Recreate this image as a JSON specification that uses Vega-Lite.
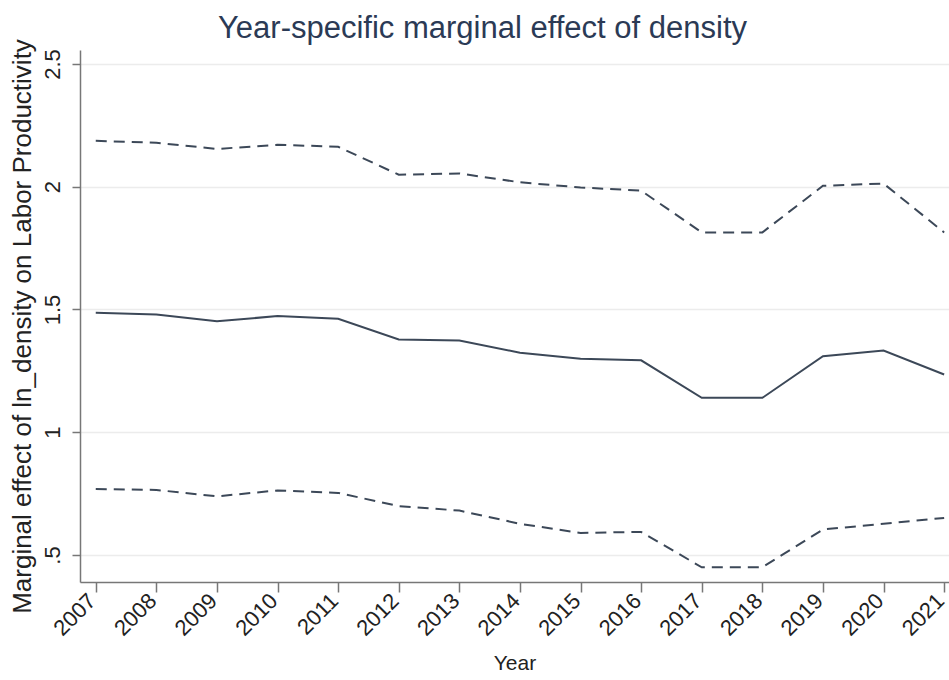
{
  "$schema": "https://vega.github.io/schema/vega-lite/v6.json",
  "autosize": {"type": "none"},
  "width": 869,
  "height": 532,
  "padding": {"left": 80, "top": 50, "right": 0, "bottom": 98},
  "background": "white",
  "config": {
    "view": {"stroke": null},
    "font": "Liberation Sans"
  },
  "title": {
    "text": "Year-specific marginal effect of density",
    "font": "Liberation Sans",
    "fontSize": 31,
    "fontWeight": "normal",
    "color": "#2b3a55",
    "anchor": "middle",
    "dx": -32,
    "offset": -6
  },
  "data": {
    "values": [
      {"year": 2007, "hi": 2.187, "est": 1.487, "lo": 0.769},
      {"year": 2008, "hi": 2.179, "est": 1.480, "lo": 0.765},
      {"year": 2009, "hi": 2.154, "est": 1.452, "lo": 0.739},
      {"year": 2010, "hi": 2.171, "est": 1.473, "lo": 0.763},
      {"year": 2011, "hi": 2.163, "est": 1.462, "lo": 0.753},
      {"year": 2012, "hi": 2.049, "est": 1.378, "lo": 0.699},
      {"year": 2013, "hi": 2.054, "est": 1.374, "lo": 0.681},
      {"year": 2014, "hi": 2.018, "est": 1.324, "lo": 0.627},
      {"year": 2015, "hi": 1.997, "est": 1.299, "lo": 0.590},
      {"year": 2016, "hi": 1.984, "est": 1.293, "lo": 0.594},
      {"year": 2017, "hi": 1.814, "est": 1.140, "lo": 0.450},
      {"year": 2018, "hi": 1.814, "est": 1.140, "lo": 0.450},
      {"year": 2019, "hi": 2.004, "est": 1.310, "lo": 0.604},
      {"year": 2020, "hi": 2.013, "est": 1.333, "lo": 0.627},
      {"year": 2021, "hi": 1.814, "est": 1.235, "lo": 0.651}
    ]
  },
  "encoding": {
    "x": {
      "field": "year",
      "type": "quantitative",
      "scale": {"domain": [2006.74, 2021.08], "nice": false, "zero": false},
      "axis": {
        "title": "Year",
        "titleFont": "Liberation Sans",
        "titleFontSize": 21,
        "titleFontWeight": "normal",
        "titleColor": "#222222",
        "titlePadding": 13,
        "values": [2007, 2008, 2009, 2010, 2011, 2012, 2013, 2014, 2015, 2016, 2017, 2018, 2019, 2020, 2021],
        "format": "d",
        "labelAngle": -45,
        "labelAlign": "right",
        "labelBaseline": "middle",
        "labelFont": "Liberation Sans",
        "labelFontSize": 22,
        "labelColor": "#222222",
        "labelPadding": 5,
        "labelOffset": -4,
        "labelOverlap": false,
        "labelFlush": false,
        "tickSize": 10,
        "tickColor": "#777777",
        "tickWidth": 1.5,
        "domainColor": "#777777",
        "domainWidth": 1.5,
        "grid": false
      }
    }
  },
  "layer": [
    {
      "mark": {"type": "line", "color": "#3c4858", "strokeWidth": 2, "strokeDash": [11, 7]},
      "encoding": {
        "y": {
          "field": "hi",
          "type": "quantitative",
          "scale": {"domain": [0.39, 2.557], "nice": false, "zero": false},
          "axis": {
            "title": "Marginal effect of ln_density on Labor Productivity",
            "titleFont": "Liberation Sans",
            "titleFontSize": 26,
            "titleFontWeight": "normal",
            "titleColor": "#222222",
            "titlePadding": 6,
            "titleY": 276,
            "values": [0.5, 1, 1.5, 2, 2.5],
            "labelExpr": "datum.value == 0.5 ? '.5' : format(datum.value, '~g')",
            "labelAngle": -90,
            "labelAlign": "center",
            "labelBaseline": "bottom",
            "labelFont": "Liberation Sans",
            "labelFontSize": 22,
            "labelColor": "#222222",
            "labelPadding": 8,
            "tickSize": 8,
            "tickColor": "#777777",
            "tickWidth": 1.5,
            "domainColor": "#777777",
            "domainWidth": 1.5,
            "grid": true,
            "gridColor": "#ececec",
            "gridWidth": 1.5
          }
        }
      }
    },
    {
      "mark": {"type": "line", "color": "#3c4858", "strokeWidth": 2},
      "encoding": {"y": {"field": "est", "type": "quantitative"}}
    },
    {
      "mark": {"type": "line", "color": "#3c4858", "strokeWidth": 2, "strokeDash": [11, 7]},
      "encoding": {"y": {"field": "lo", "type": "quantitative"}}
    }
  ]
}
